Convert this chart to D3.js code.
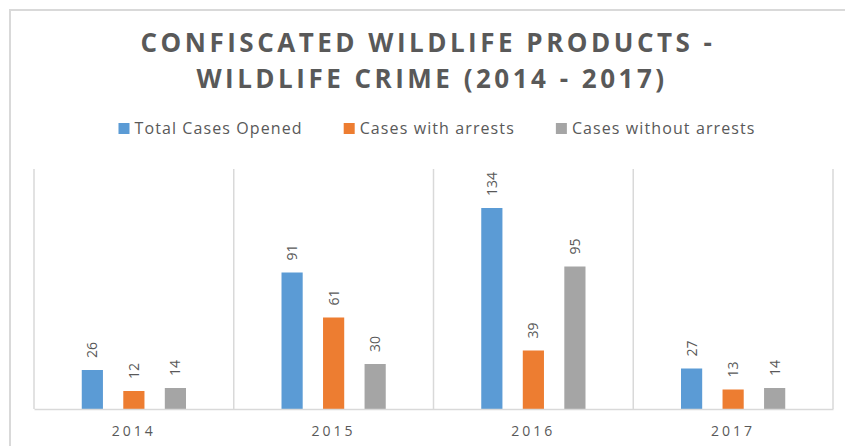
<!DOCTYPE html>
<html>
<head>
<meta charset="utf-8">
<script src="https://cdn.jsdelivr.net/npm/d3@7"></script>
<style>
  body { margin: 0; background: #fff; }
  text { font-family: "Open Sans", "Liberation Sans", sans-serif; fill: #595959; }
</style>
</head>
<body>
<script>
// data
var years = ["2014", "2015", "2016", "2017"];
var seriesNames = ["Total Cases Opened", "Cases with arrests", "Cases without arrests"];
var totalCases = [26, 91, 134, 27];
var withArrests = [12, 61, 39, 13];
var withoutArrests = [14, 30, 95, 14];
var colors = ["#5b9bd5", "#ed7d31", "#a5a5a5"];

var W = 845, H = 446;
var margin = {top: 169, right: 12, bottom: 37, left: 34};
var width = 833 - margin.left, height = 409 - margin.top;

var svg = d3.select("body").append("svg")
    .attr("width", W)
    .attr("height", H);

// chart border (cropped on right/bottom in the original)
svg.append("rect")
    .attr("x", 10).attr("y", 10)
    .attr("width", 860).attr("height", 460)
    .attr("fill", "none")
    .attr("stroke", "#d9d9d9")
    .attr("stroke-width", 2);

// title, two lines
var titleLines = ["CONFISCATED WILDLIFE PRODUCTS -", "WILDLIFE CRIME (2014 - 2017)"];
svg.selectAll(".title")
  .data(titleLines)
  .enter().append("text")
    .attr("class", "title")
    .attr("text-anchor", "middle")
    .attr("x", function(d, i) { return i ? 432 : 428; })
    .attr("y", function(d, i) { return i ? 88 : 52; })
    .style("font-size", "26px")
    .style("font-weight", "bold")
    .style("letter-spacing", "3.5px")
    .text(function(d) { return d; });

// legend
var legend = svg.append("g");
var lx = 0;
seriesNames.forEach(function(name, i) {
  var item = legend.append("g").attr("transform", "translate(" + lx + ",0)");
  item.append("rect")
      .attr("x", 0).attr("y", -11)
      .attr("width", 11).attr("height", 11)
      .attr("fill", colors[i]);
  var t = item.append("text")
      .attr("x", 16).attr("y", 0)
      .style("font-size", "16px")
      .style("letter-spacing", "1.1px")
      .text(name);
  lx += 16 + t.node().getComputedTextLength() + 41;
});
var legendW = lx - 41;
legend.attr("transform", "translate(" + (437 - legendW / 2) + ",134)");

var main = svg.append("g")
    .attr("transform", "translate(" + margin.left + "," + margin.top + ")");

var x0 = d3.scaleBand()
    .domain(years)
    .range([0, width]);

var x1 = d3.scaleBand()
    .domain(seriesNames)
    .range([0, x0.bandwidth()])
    .paddingInner(0.49)
    .paddingOuter(1.15);

var y = d3.scaleLinear()
    .domain([0, 160])
    .range([height, 0]);

// vertical separators between categories
main.selectAll(".sep")
  .data(d3.range(years.length + 1))
  .enter().append("line")
    .attr("x1", function(i) { return i * x0.step(); })
    .attr("x2", function(i) { return i * x0.step(); })
    .attr("y1", 0)
    .attr("y2", height)
    .attr("stroke", "#d9d9d9")
    .attr("stroke-width", 1.5);

var rows = years.map(function(yr, i) {
  return {year: yr, values: [totalCases[i], withArrests[i], withoutArrests[i]]};
});

var groups = main.selectAll(".grp")
  .data(rows)
  .enter().append("g")
    .attr("transform", function(d) { return "translate(" + x0(d.year) + ",0)"; });

groups.selectAll("rect")
  .data(function(d) { return d.values.map(function(v, i) { return {name: seriesNames[i], value: v, i: i}; }); })
  .enter().append("rect")
    .attr("x", function(d) { return x1(d.name); })
    .attr("y", function(d) { return y(d.value); })
    .attr("width", x1.bandwidth())
    .attr("height", function(d) { return height - y(d.value); })
    .attr("fill", function(d) { return colors[d.i]; });

groups.selectAll(".lbl")
  .data(function(d) { return d.values.map(function(v, i) { return {name: seriesNames[i], value: v}; }); })
  .enter().append("text")
    .attr("transform", function(d) {
      return "translate(" + (x1(d.name) + x1.bandwidth() / 2 + 5) + "," + (y(d.value) - 12) + ") rotate(-90)";
    })
    .style("font-size", "14px")
    .text(function(d) { return d.value; });

// x axis
var xAxis = d3.axisBottom(x0).tickSize(0).tickPadding(17);
var ax = main.append("g")
    .attr("transform", "translate(0," + height + ")")
    .call(xAxis);
ax.select(".domain").attr("stroke", "#d9d9d9").attr("stroke-width", 1.5);
ax.selectAll("text")
    .style("font-family", "\"Open Sans\", sans-serif")
    .style("font-size", "14px")
    .style("letter-spacing", "3px")
    .attr("fill", "#595959");
</script>
</body>
</html>
